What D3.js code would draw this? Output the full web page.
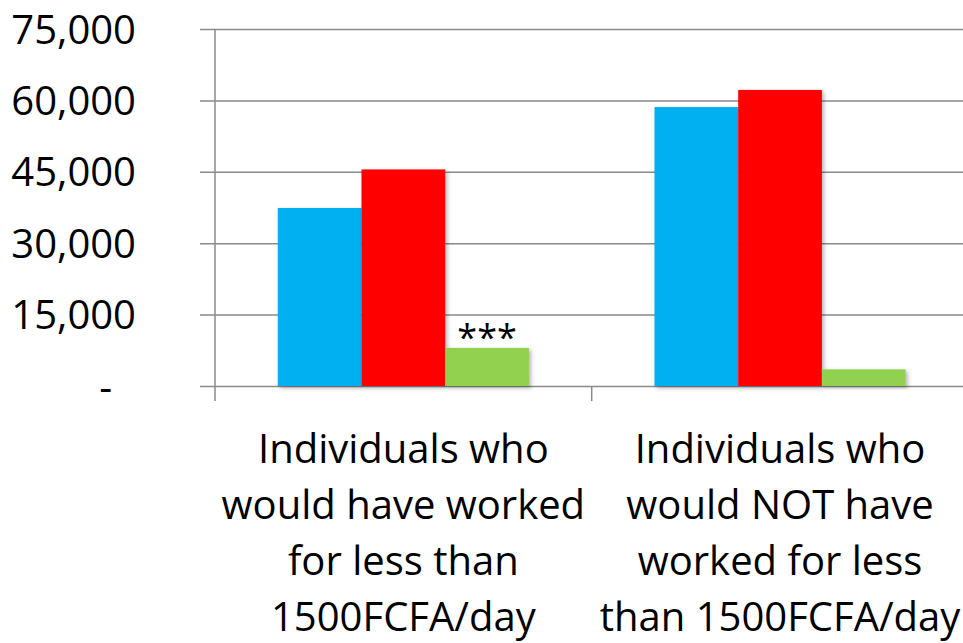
<!DOCTYPE html>
<html>
<head>
<meta charset="utf-8">
<script src="https://cdn.jsdelivr.net/npm/d3@7"></script>
<style>
  html, body { margin: 0; padding: 0; background: #fff; }
  svg { display: block; }
  svg text { font-family: "Open Sans", "Noto Sans", sans-serif; }
</style>
</head>
<body>
<svg id="chart" width="963" height="643"></svg>
<script>
// Categories (one array of label lines per group)
const categories = ["low", "notLow"];
const categoryLines = [
  ["Individuals who", "would have worked", "for less than", "1500FCFA/day"],
  ["Individuals who", "would NOT have", "worked for less", "than 1500FCFA/day"]
];

// Series values, one entry per category
const seriesNames = ["Series 1", "Series 2", "Series 3"];
const series1 = [37400, 58600];
const series2 = [45500, 62200];
const series3 = [8000, 3500];
const seriesColors = ["#00B0F0", "#FF0000", "#92D050"];

// Significance markers above the third series
const series3Marks = ["***", ""];

// Y axis ticks
const yTicks = [0, 15000, 30000, 45000, 60000, 75000];

const svg = d3.select("#chart");
const plotLeft = 215, plotRight = 968.4, plotTop = 29, plotBottom = 386;

const y = d3.scaleLinear().domain([0, 75000]).range([plotBottom, plotTop]);
const x0 = d3.scaleBand().domain(categories).range([plotLeft, plotRight]).padding(0);
const groupInset = x0.bandwidth() * 0.6 / 3.6;   // gap width 150% of a bar
const x1 = d3.scaleBand().domain(seriesNames)
  .range([groupInset, x0.bandwidth() - groupInset]).padding(0);

const values = [series1, series2, series3];
const rows = categories.map((c, i) => ({
  cat: c,
  bars: seriesNames.map((s, j) => ({ s, v: values[j][i], color: seriesColors[j] })),
  mark: series3Marks[i]
}));

// Soft drop shadow under the bars
const defs = svg.append("defs");
const f = defs.append("filter").attr("id", "shadow")
  .attr("x", "-10%").attr("y", "-10%").attr("width", "130%").attr("height", "130%");
f.append("feDropShadow").attr("dx", 2).attr("dy", 2).attr("stdDeviation", 2)
  .attr("flood-color", "#000").attr("flood-opacity", 0.3);

// Horizontal gridlines with small ticks left of the axis
const yAxis = d3.axisLeft(y).tickValues(yTicks)
  .tickSize(-(963 - plotLeft)).tickSizeOuter(0)
  .tickFormat(d => d === 0 ? "-" : d3.format(",")(d));
const gy = svg.append("g").attr("transform", `translate(${plotLeft},0)`).call(yAxis)
  .attr("font-family", null).attr("font-size", null);
gy.select(".domain").remove();
gy.selectAll(".tick line")
  .attr("x1", -15)
  .attr("stroke", "#8a8a8a").attr("stroke-width", 1.5);
gy.selectAll(".tick text")
  .attr("x", -79).attr("dy", "0.35em")
  .attr("font-size", 40).attr("fill", "#000")
  .attr("text-anchor", "end")
  .filter(d => d === 0).attr("x", -103);

// Vertical axis line extending below the baseline
svg.append("line")
  .attr("x1", plotLeft).attr("x2", plotLeft)
  .attr("y1", plotTop).attr("y2", plotBottom + 15)
  .attr("stroke", "#8a8a8a").attr("stroke-width", 1.5);

// Category separator tick marks
svg.selectAll("line.sep").data(categories.slice(1)).join("line")
  .attr("class", "sep")
  .attr("x1", d => x0(d)).attr("x2", d => x0(d))
  .attr("y1", plotBottom).attr("y2", plotBottom + 15)
  .attr("stroke", "#8a8a8a").attr("stroke-width", 1.5);

// Bars
const groups = svg.selectAll("g.group").data(rows).join("g")
  .attr("class", "group")
  .attr("transform", d => `translate(${x0(d.cat)},0)`);

groups.selectAll("rect").data(d => d.bars).join("rect")
  .attr("x", d => x1(d.s))
  .attr("y", d => y(d.v))
  .attr("width", x1.bandwidth())
  .attr("height", d => y(0) - y(d.v))
  .attr("fill", d => d.color)
  .attr("filter", "url(#shadow)");

// Significance stars
groups.append("text")
  .attr("x", x1(seriesNames[2]) + x1.bandwidth() / 2)
  .attr("y", d => y(d.bars[2].v) + 2)
  .attr("text-anchor", "middle")
  .attr("font-size", 36)
  .attr("fill", "#000")
  .text(d => d.mark);

// Category labels
svg.selectAll("text.cat").data(categories).join("text")
  .attr("class", "cat")
  .attr("x", d => x0(d) + x0.bandwidth() / 2)
  .attr("y", 463)
  .attr("text-anchor", "middle")
  .attr("font-size", 40)
  .attr("fill", "#000")
  .selectAll("tspan").data((d, i) => categoryLines[i]).join("tspan")
  .attr("x", function () { return this.parentNode.getAttribute("x"); })
  .attr("dy", (d, i) => i === 0 ? 0 : 56)
  .text(d => d);
</script>
</body>
</html>
